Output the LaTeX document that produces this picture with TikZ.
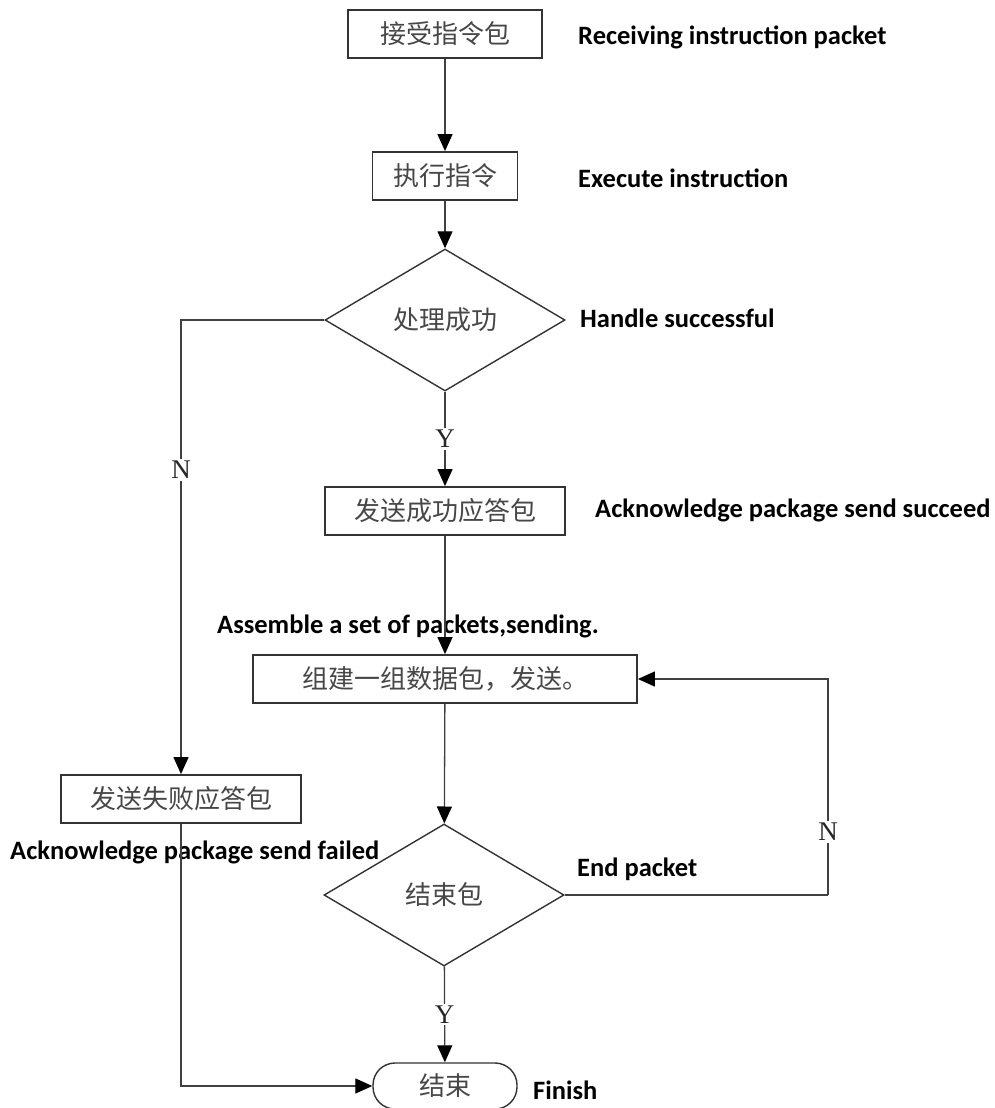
\documentclass[tikz,border=0pt]{standalone}
\usepackage{fontspec}
\usepackage{tikz}
\usetikzlibrary{shapes.geometric,arrows.meta}
\setmainfont{Liberation Serif}
\newfontfamily\cjk{Noto Sans CJK SC}
\newfontfamily\lblfont{Carlito}

\begin{document}
\begin{tikzpicture}[x=1pt,y=-1pt]
\tikzstyle{box}=[draw=black!80,line width=1.8pt,minimum height=48pt,inner sep=0pt,font=\cjk\fontsize{26}{30}\selectfont,text=black!72];
\tikzstyle{dec}=[box,diamond,minimum width=240pt,minimum height=142pt,line width=1.4pt];
\tikzstyle{term}=[box,rounded corners=22pt,minimum width=144pt,minimum height=46pt,line width=1.4pt];
\tikzstyle{lbl}=[font=\lblfont\bfseries\fontsize{26.5}{30}\selectfont,anchor=west,inner sep=0pt];
\tikzstyle{yn}=[font=\fontsize{27}{30}\selectfont,fill=white,inner sep=2pt,text=black!85];
\tikzstyle{line}=[draw=black!75,line width=1.3pt];
\tikzstyle{arr}=[line,-{Triangle[length=17pt,width=15pt,color=black]}];

\useasboundingbox (0,0) rectangle (995,1108);

\node [box,minimum width=194pt] (recv) at (445,34) {接受指令包};
\node [box,minimum width=145pt] (exec) at (445,176) {执行指令};
\node [dec] (ok) at (445,320) {处理成功};
\node [box,minimum width=240pt] (ackok) at (445,511) {发送成功应答包};
\node [box,minimum width=384pt] (pack) at (445,679) {组建一组数据包，发送。};
\node [box,minimum width=240pt] (ackfail) at (181,799) {发送失败应答包};
\node [dec] (last) at (444,895) {结束包};
\node [term] (fin) at (445,1086) {结束};
\coordinate (loop) at (828,895);

\node [lbl] at (578,37) {Receiving instruction packet};
\node [lbl] at (578,178) {Execute instruction};
\node [lbl] at (580,318) {Handle successful};
\node [lbl] at (595,510) {Acknowledge package send succeed};
\node [lbl] at (217,626) {Assemble a set of packets,sending.};
\node [lbl] at (10,852) {Acknowledge package send failed};
\node [lbl] at (577,869) {End packet};
\node [lbl] at (533,1090) {Finish};

\draw [arr] (recv) -- (exec);
\draw [arr] (exec) -- (ok);
\draw [arr] (ok) -- node [yn] {Y} (ackok);
\draw [arr] (ok.west) -| node [yn,pos=0.665] {N} (ackfail);
\draw [arr] (ackok) -- (pack);
\draw [arr] (pack) -- (last);
\draw [arr] (last) -- node [yn] {Y} (fin);
\draw [line] (last.east) -- (loop);
\draw [arr] (loop) |- node [yn,pos=0.146] {N} (pack.east);
\draw [arr] (ackfail) |- (fin);
\end{tikzpicture}
\end{document}
